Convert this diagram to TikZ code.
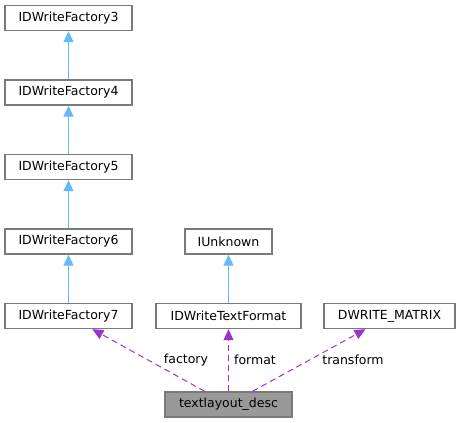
\documentclass[tikz,border=0pt]{standalone}
\usepackage{fontspec}
\setmainfont{DejaVu Sans}
\usepackage{tikz}
\usetikzlibrary{arrows.meta}
\definecolor{inhblue}{HTML}{63B8FF}
\definecolor{usepurple}{HTML}{9A32CD}
\definecolor{boxgray}{HTML}{7A7A7A}
\definecolor{mainfill}{HTML}{999999}

\begin{document}
\begin{tikzpicture}[line cap=butt,line join=miter,x=1pt,y=-1pt,
  cls/.style={draw=boxgray,line width=1.4pt,fill=white,minimum height=25pt,inner sep=0pt,font=\fontsize{12.5}{14}\selectfont},
  inh/.style={draw=inhblue,line width=1pt,-{Triangle[length=11pt,width=10pt]}},
  use/.style={draw=usepurple,line width=1pt,dash pattern=on 6pt off 4pt,-{Triangle[length=11pt,width=10pt]}},
  lbl/.style={font=\fontsize{12.5}{14}\selectfont,inner sep=0pt}]
\useasboundingbox (0,0) rectangle (461,423);
\node[cls,minimum width=127pt] (f3) at (68.5,18) {IDWriteFactory3};
\node[cls,minimum width=127pt] (f4) at (68.5,92.5) {IDWriteFactory4};
\node[cls,minimum width=127pt] (f5) at (68.5,167) {IDWriteFactory5};
\node[cls,minimum width=127pt] (f6) at (68.5,241.5) {IDWriteFactory6};
\node[cls,minimum width=127pt] (f7) at (68.5,316) {IDWriteFactory7};
\node[cls,minimum width=87pt] (unk) at (228.5,241.5) {IUnknown};
\node[cls,minimum width=145pt] (fmt) at (228.5,316) {IDWriteTextFormat};
\node[cls,minimum width=131pt] (mat) at (389.5,316) {DWRITE\_MATRIX};
\node[cls,minimum width=127pt,fill=mainfill] (desc) at (228.5,404.5) {textlayout\_desc};
\draw[inh] (f4) -- (f3);
\draw[inh] (f5) -- (f4);
\draw[inh] (f6) -- (f5);
\draw[inh] (f7) -- (f6);
\draw[inh] (fmt) -- (unk);
\draw[use] (desc) -- (f7);
\draw[use] (desc) -- (fmt);
\draw[use] (desc) -- (mat);
\node[lbl] (lf) at (186,360) {factory};
\node[lbl] (lfo) at (255,360) {format};
\node[lbl] (ltr) at (353,360) {transform};
\end{tikzpicture}
\end{document}
